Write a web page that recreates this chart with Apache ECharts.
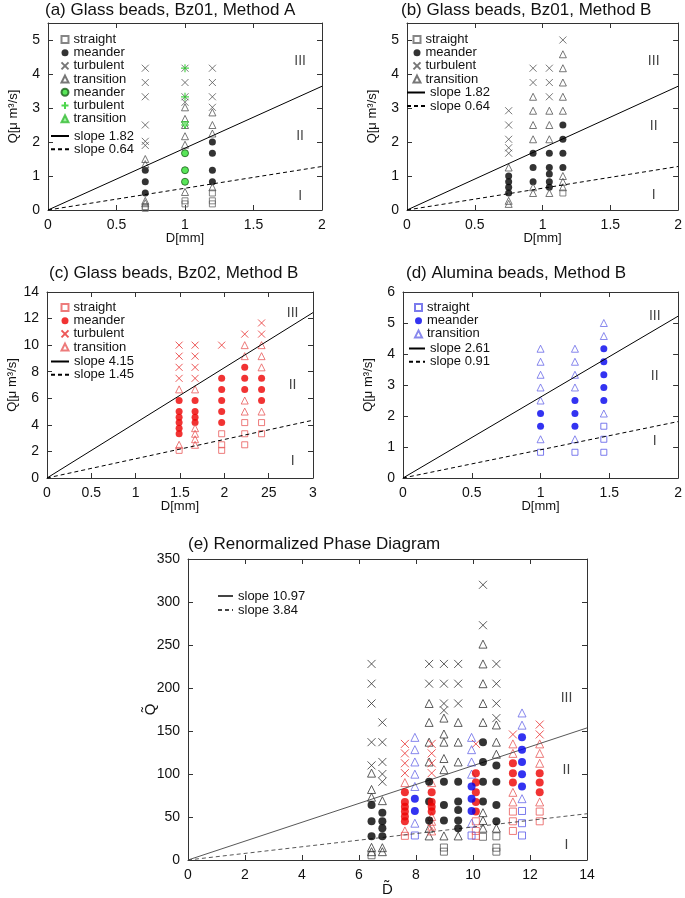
<!DOCTYPE html>
<html><head><meta charset="utf-8">
<script src="https://cdn.jsdelivr.net/npm/echarts@6/dist/echarts.min.js"></script>
<style>html,body{margin:0;padding:0;background:#fff}#c{width:685px;height:898px}</style>
</head><body><div id="c"></div>
<script>
// ---------- Panel (a): Glass beads, Bz01, Method A ----------
const aStraight = [[0.71,0.1],[0.71,0.05],[1.0,0.27],[1.0,0.18],[1.2,0.5],[1.2,0.27],[1.2,0.18]];
const aMeander = [[0.71,1.17],[0.71,0.83],[0.71,0.5],[1.2,2.0],[1.2,1.67],[1.2,1.17],[1.2,0.83]];
const aTurbulent = [[0.71,4.17],[0.71,3.75],[0.71,3.33],[0.71,2.5],[0.71,2.02],[0.71,1.9],[1.0,4.17],[1.0,3.75],[1.0,3.33],[1.0,3.17],[1.2,4.17],[1.2,3.75],[1.2,3.33],[1.2,3.02]];
const aTransition = [[0.71,1.5],[0.71,1.35],[0.71,0.27],[0.71,0.2],[1.0,3.02],[1.0,2.68],[1.0,2.5],[1.0,2.17],[1.0,1.92],[1.0,0.53],[1.2,2.87],[1.2,2.5],[1.2,2.25],[1.2,0.67]];
const aGreenMeander = [[1.0,1.67],[1.0,1.17],[1.0,0.83]];
const aGreenTurbulent = [[1.0,4.17],[1.0,3.33],[1.0,2.5]];
const aGreenTransition = [[1.0,2.5]];
const aSlopeHigh = [[0,0],[2,3.64]];   // slope 1.82
const aSlopeLow = [[0,0],[2,1.28]];    // slope 0.64

// ---------- Panel (b): Glass beads, Bz01, Method B ----------
const bStraight = [[1.15,0.5]];
const bMeander = [[0.75,1.0],[0.75,0.83],[0.75,0.67],[0.75,0.5],[0.93,1.67],[0.93,1.25],[0.93,0.83],[1.05,1.67],[1.05,1.25],[1.05,1.06],[1.05,0.83],[1.05,0.67],[1.15,2.5],[1.15,2.08],[1.15,1.67],[1.15,1.25]];
const bTurbulent = [[0.75,2.92],[0.75,2.5],[0.75,2.08],[0.75,1.83],[0.75,1.67],[0.93,4.17],[0.93,3.75],[1.05,4.17],[1.05,3.75],[1.05,3.33],[1.15,5.0]];
const bTransition = [[0.75,1.25],[0.75,0.27],[0.75,0.18],[0.93,3.33],[0.93,2.92],[0.93,2.5],[0.93,2.08],[0.93,0.67],[0.93,0.5],[1.05,2.92],[1.05,2.5],[1.05,2.08],[1.05,0.5],[1.15,4.58],[1.15,4.17],[1.15,3.75],[1.15,3.33],[1.15,2.92],[1.15,1.0],[1.15,0.83],[1.15,0.67]];
const bSlopeHigh = [[0,0],[2,3.64]];   // slope 1.82
const bSlopeLow = [[0,0],[2,1.28]];    // slope 0.64

// ---------- Panel (c): Glass beads, Bz02, Method B ----------
const cStraight = [[1.49,2.08],[1.97,3.33],[1.97,2.5],[1.97,2.08],[2.23,4.17],[2.23,3.33],[2.23,2.5],[2.42,4.17],[2.42,3.33]];
const cMeander = [[1.49,5.83],[1.49,5.0],[1.49,4.58],[1.49,4.17],[1.49,3.75],[1.49,3.33],[1.67,5.83],[1.67,5.0],[1.67,4.58],[1.67,4.17],[1.97,7.5],[1.97,6.67],[1.97,5.83],[1.97,5.0],[1.97,4.17],[2.23,8.33],[2.23,7.5],[2.23,6.67],[2.42,7.5],[2.42,6.67],[2.42,5.83]];
const cTurbulent = [[1.49,10],[1.49,9.17],[1.49,8.33],[1.49,7.5],[1.67,10],[1.67,9.17],[1.67,8.33],[1.67,7.5],[1.97,10],[2.23,10.83],[2.42,11.67],[2.42,10.83]];
const cTransition = [[1.49,6.67],[1.49,2.5],[1.67,6.67],[1.67,3.75],[1.67,3.33],[1.67,2.92],[1.67,2.5],[2.23,10],[2.23,9.17],[2.23,5.83],[2.23,5.0],[2.42,10],[2.42,9.17],[2.42,8.33],[2.42,5.0]];
const cSlopeHigh = [[0,0],[3,12.45]];  // slope 4.15
const cSlopeLow = [[0,0],[3,4.35]];    // slope 1.45

// ---------- Panel (d): Alumina beads, Method B ----------
const dStraight = [[1.0,0.83],[1.25,0.83],[1.46,1.67],[1.46,1.25],[1.46,0.83]];
const dMeander = [[1.0,2.08],[1.0,1.67],[1.25,2.5],[1.25,2.08],[1.25,1.67],[1.46,4.17],[1.46,3.75],[1.46,3.33],[1.46,2.92],[1.46,2.5]];
const dTransition = [[1.0,4.17],[1.0,3.75],[1.0,3.33],[1.0,2.92],[1.0,2.5],[1.0,1.25],[1.25,4.17],[1.25,3.75],[1.25,3.33],[1.25,2.92],[1.25,1.25],[1.46,5.0],[1.46,4.58],[1.46,2.08]];
const dSlopeHigh = [[0,0],[2,5.22]];   // slope 2.61
const dSlopeLow = [[0,0],[2,1.82]];    // slope 0.91

// ---------- Panel (e): Renormalized Phase Diagram ----------
const eBkStraight = [[6.44,5.5],[8.98,14.5],[8.98,9.7],[10.35,27],[10.82,27.5],[10.82,14.3],[10.82,9.7]];
const eBkMeander = [[6.44,64],[6.44,45],[6.44,27.5],[6.82,55],[6.82,45],[6.82,37],[6.82,27.5],[8.46,91],[8.46,68],[8.46,46],[8.98,91],[8.98,64],[8.98,46],[9.48,91],[9.48,68],[9.48,58],[9.48,46],[9.48,37],[10.35,137],[10.35,114],[10.35,91],[10.35,68],[10.82,110],[10.82,91],[10.82,64],[10.82,45]];
const eBkTurbulent = [[6.44,228],[6.44,205],[6.44,182],[6.44,137],[6.44,110],[6.82,160],[6.82,137],[6.82,114],[6.82,100],[6.82,91],[8.46,228],[8.46,205],[8.98,228],[8.98,205],[8.98,182],[8.98,174],[9.48,228],[9.48,205],[9.48,182],[10.35,320],[10.35,273],[10.82,228],[10.82,205],[10.82,182],[10.82,165]];
const eBkTransition = [[6.44,101],[6.44,82],[6.44,73],[6.44,14.7],[6.44,9.7],[6.82,69],[6.82,14.3],[6.82,9.7],[8.46,182],[8.46,160],[8.46,137],[8.46,114],[8.46,37],[8.46,28],[8.98,165],[8.98,146.5],[8.98,137],[8.98,118],[8.98,105],[8.98,28],[9.48,160],[9.48,137],[9.48,114],[9.48,28],[10.35,251],[10.35,228],[10.35,205],[10.35,182],[10.35,160],[10.35,55],[10.35,46],[10.35,37],[10.82,157],[10.82,137],[10.82,123],[10.82,37]];
const eRdStraight = [[7.61,28.1],[10.1,45],[10.1,33.8],[10.1,28.1],[11.4,56.3],[11.4,45],[11.4,33.8],[12.34,56.3],[12.34,45]];
const eRdMeander = [[7.61,78.7],[7.61,67.5],[7.61,61.9],[7.61,56.3],[7.61,50.6],[7.61,45],[8.55,78.7],[8.55,67.5],[8.55,61.9],[8.55,56.3],[10.1,101],[10.1,90],[10.1,78.7],[10.1,67.5],[10.1,56.3],[11.4,112.5],[11.4,101],[11.4,90],[12.34,101],[12.34,90],[12.34,78.7]];
const eRdTurbulent = [[7.61,135],[7.61,124],[7.61,112.5],[7.61,101],[8.55,135],[8.55,124],[8.55,112.5],[8.55,101],[10.1,135],[11.4,146],[12.34,157.5],[12.34,146]];
const eRdTransition = [[7.61,90],[7.61,33.8],[8.55,90],[8.55,50.6],[8.55,45],[8.55,39.4],[8.55,33.8],[11.4,135],[11.4,124],[11.4,78.7],[11.4,67.5],[12.34,135],[12.34,124],[12.34,112.5],[12.34,67.5]];
const eBlStraight = [[7.96,28.5],[9.95,28.5],[11.72,57],[11.72,42.8],[11.72,28.5]];
const eBlMeander = [[7.96,71.3],[7.96,57],[9.95,85.5],[9.95,71.3],[9.95,57],[11.72,142.6],[11.72,128.3],[11.72,114],[11.72,99.8],[11.72,85.5]];
const eBlTransition = [[7.96,142.6],[7.96,128.3],[7.96,114],[7.96,99.8],[7.96,85.5],[7.96,42.8],[9.95,142.6],[9.95,128.3],[9.95,114],[9.95,99.8],[9.95,42.8],[11.72,171],[11.72,156.8],[11.72,71.3]];
const eSlopeHigh = [[0,0],[14,153.6]]; // slope 10.97
const eSlopeLow = [[0,0],[14,53.8]];   // slope 3.84

// ---------- Text ----------
const titles = ['(a) Glass beads, Bz01, Method A','(b) Glass beads, Bz01, Method B','(c) Glass beads, Bz02, Method B','(d) Alumina beads, Method B','(e) Renormalized Phase Diagram'];
const regionNames = ['I','II','III'];
const qName = 'Q[\u03bc m\u00b3/s]';
const dName = 'D[mm]';

// ---------- Layout ----------
const FONT = '"Liberation Sans", Arial, sans-serif';
const grids = [
  {left:48, top:23, width:274, height:187},
  {left:407, top:23, width:273, height:187},
  {left:47, top:292, width:266, height:186},
  {left:403, top:292, width:277, height:186},
  {left:188, top:559, width:399, height:301}
];
const axisRanges = [
  {x:[0,2,0.5], y:[0,5.5,1]},
  {x:[0,2,0.5], y:[0,5.5,1]},
  {x:[0,3,0.5], y:[0,14,2]},
  {x:[0,2,0.5], y:[0,6,1]},
  {x:[0,14,2], y:[0,350,50]}
];
const regionPos = [
  [[1.84,0.42],[1.84,2.17],[1.84,4.39]],
  [[1.82,0.44],[1.82,2.46],[1.82,4.39]],
  [[2.77,1.3],[2.77,7.0],[2.77,12.4]],
  [[1.83,1.19],[1.83,3.29],[1.83,5.23]],
  [[13.28,17.4],[13.28,104.7],[13.28,188]]
];

const AX = '#333';
const xAxes = [], yAxes = [];
grids.forEach((g, i) => {
  const r = axisRanges[i];
  const base = {type:'value', gridIndex:i, splitLine:{show:false},
    axisLine:{onZero:false, lineStyle:{color:AX, width:1}},
    axisTick:{inside:true, length:5, lineStyle:{color:AX}}};
  const lbl = {color:'#111', fontSize:14, fontFamily:FONT, margin:8};
  xAxes.push(Object.assign({}, base, {position:'bottom', min:r.x[0], max:r.x[1], interval:r.x[2],
    axisLabel:Object.assign({}, lbl, {
      formatter: i === 2 ? (v => v === 2.5 ? '25' : String(v)) : (v => String(v))}),
    name: i === 4 ? 'D\u0303' : dName, nameLocation:'middle', nameGap: 22, nameMoveOverlap:false,
    nameTextStyle:{color:'#111', fontSize: i === 4 ? 15 : 13, fontFamily:FONT}}));
  xAxes.push(Object.assign({}, base, {position:'top', min:r.x[0], max:r.x[1], interval:r.x[2], axisLabel:{show:false}}));
  yAxes.push(Object.assign({}, base, {position:'left', min:r.y[0], max:r.y[1], interval:r.y[2],
    axisLabel:Object.assign({}, lbl, {showMaxLabel: r.y[1] % r.y[2] === 0}),
    name: i === 4 ? 'Q\u0303' : qName, nameLocation:'middle', nameGap: i === 4 ? 30 : 28, nameMoveOverlap:false,
    nameTextStyle:{color:'#111', fontSize: i === 4 ? 15 : 13, fontFamily:FONT}}));
  yAxes.push(Object.assign({}, base, {position:'right', min:r.y[0], max:r.y[1], interval:r.y[2], axisLabel:{show:false}}));
});

// ---------- Symbol styles ----------
const NOFILL = 'rgba(255,255,255,0)';
const CROSS = 'path://M0,0L10,10M10,0L0,10';
const PLUS = 'path://M5,0L5,10M0,5L10,5';
const st = {
  sq: (c, s) => ({symbol:'rect', symbolSize:s||6, itemStyle:{color:NOFILL, borderColor:c, borderWidth:1}}),
  tri: (c, s, f) => ({symbol:'triangle', symbolSize:s||7, itemStyle:{color:f||NOFILL, borderColor:c, borderWidth:1}}),
  dot: (c, s, bc) => ({symbol:'circle', symbolSize:s||7, itemStyle:{color:c, borderColor:bc||c, borderWidth:bc?1:0}}),
  x: (c, s) => ({symbol:CROSS, symbolSize:s||7, itemStyle:{color:NOFILL, borderColor:c, borderWidth:1}}),
  plus: (c, s) => ({symbol:PLUS, symbolSize:s||8, itemStyle:{color:NOFILL, borderColor:c, borderWidth:1.2}})
};
function S(name, data, gi, style, z) {
  return Object.assign({type:'scatter', name, data, xAxisIndex:gi*2, yAxisIndex:gi*2, silent:true, z:z||2}, style);
}
function L(name, data, gi, dashed, color, width) {
  color = color || '#000';
  return {type:'line', name, data, xAxisIndex:gi*2, yAxisIndex:gi*2, symbol:'none', silent:true, z:3,
    lineStyle:{color, width:width||1, type: dashed ? [4,3] : 'solid'}, itemStyle:{color}};
}
function R(gi) {
  return {type:'scatter', silent:true, xAxisIndex:gi*2, yAxisIndex:gi*2, symbolSize:1,
    itemStyle:{color:'rgba(0,0,0,0)'},
    data: regionPos[gi].map((p, k) => [p[0], p[1], regionNames[k]]),
    label:{show:true, position:'inside', formatter: p => p.data[2], color:'#111', fontSize:14, fontFamily:FONT}};
}

const GRAY = '#555', GR = '#666';
const series = [
  // (a)
  S('straight|a', aStraight, 0, st.sq(GR)),
  S('meander|a', aMeander, 0, st.dot('#000')),
  S('turbulent|a', aTurbulent, 0, st.x(GRAY)),
  S('transition|a', aTransition, 0, st.tri(GRAY)),
  S('meander|ag', aGreenMeander, 0, st.dot('#2ee02e', 7, '#1d5e1d'), 4),
  S('turbulent|ag', aGreenTurbulent, 0, st.plus('#22cc22'), 4),
  Object.assign(S('transition|ag', aGreenTransition, 0, st.tri('#33bb33', 7, '#88ee88'), 4), {symbolRotate:180}),
  L('slope 1.82|a', aSlopeHigh, 0, false),
  L('slope 0.64|a', aSlopeLow, 0, true),
  R(0),
  // (b)
  S('straight|b', bStraight, 1, st.sq(GR)),
  S('meander|b', bMeander, 1, st.dot('#000')),
  S('turbulent|b', bTurbulent, 1, st.x(GRAY)),
  S('transition|b', bTransition, 1, st.tri(GRAY)),
  L('slope 1.82|b', bSlopeHigh, 1, false),
  L('slope 0.64|b', bSlopeLow, 1, true),
  R(1),
  // (c)
  S('straight|c', cStraight, 2, st.sq('#e85a5a')),
  S('meander|c', cMeander, 2, st.dot('#ee0000')),
  S('turbulent|c', cTurbulent, 2, st.x('#e83030')),
  S('transition|c', cTransition, 2, st.tri('#e85a5a')),
  L('slope 4.15|c', cSlopeHigh, 2, false),
  L('slope 1.45|c', cSlopeLow, 2, true),
  R(2),
  // (d)
  S('straight|d', dStraight, 3, st.sq('#5a5ae8')),
  S('meander|d', dMeander, 3, st.dot('#0000ee')),
  S('transition|d', dTransition, 3, st.tri('#6a6ae8')),
  L('slope 2.61|d', dSlopeHigh, 3, false),
  L('slope 0.91|d', dSlopeLow, 3, true),
  R(3),
  // (e)
  S('eBkStraight', eBkStraight, 4, st.sq('#555', 7)),
  S('eBkTurbulent', eBkTurbulent, 4, st.x('#333', 8)),
  S('eBkTransition', eBkTransition, 4, st.tri('#333', 8)),
  S('eRdStraight', eRdStraight, 4, st.sq('#e85a5a', 7)),
  S('eRdTurbulent', eRdTurbulent, 4, st.x('#e83030', 8)),
  S('eRdTransition', eRdTransition, 4, st.tri('#e85a5a', 8)),
  S('eBlStraight', eBlStraight, 4, st.sq('#5a5ae8', 7)),
  S('eBlTransition', eBlTransition, 4, st.tri('#6a6ae8', 8)),
  S('eBkMeander', eBkMeander, 4, st.dot('#000', 8), 3),
  S('eRdMeander', eRdMeander, 4, st.dot('#ee0000', 8), 3),
  S('eBlMeander', eBlMeander, 4, st.dot('#0000ee', 8), 3),
  L('slope 10.97|e', eSlopeHigh, 4, false, '#444', 0.9),
  L('slope 3.84|e', eSlopeLow, 4, true, '#444', 0.9),
  R(4)
];

const legText = {color:'#111', fontSize:13, fontFamily:FONT};
const fmt = n => n.split('|')[0];
function leg(names, left, top, w, h, gap) {
  const data = names.map(n => n.indexOf('slope') === 0
    ? {name:n, itemStyle:{opacity:0, color:'rgba(0,0,0,0)', borderWidth:0}}
    : n);
  return {data, left, top, orient:'vertical', itemWidth:w, itemHeight:h, itemGap:gap,
    padding:0, formatter:fmt, textStyle:legText, selectedMode:false};
}
const legends = [
  leg(['straight|a','meander|a','turbulent|a','transition|a','meander|ag','turbulent|ag','transition|ag'], 60.5, 33, 7, 7, 0.2),
  leg(['slope 1.82|a','slope 0.64|a'], 50, 129.5, 18, 8, 0.2),
  leg(['straight|b','meander|b','turbulent|b','transition|b'], 412.5, 33, 7, 7, 0.2),
  leg(['slope 1.82|b','slope 0.64|b'], 406, 86, 18, 8, 0.5),
  leg(['straight|c','meander|c','turbulent|c','transition|c'], 60.5, 301, 7, 7, 0.2),
  leg(['slope 4.15|c','slope 1.45|c'], 50, 355, 18, 8, 0.2),
  leg(['straight|d','meander|d','transition|d'], 414, 301, 7, 7, 0.2),
  leg(['slope 2.61|d','slope 0.91|d'], 408, 342, 16, 8, 0.2),
  leg(['slope 10.97|e','slope 3.84|e'], 217, 589.5, 15, 8, 1)
];

const titlePos = [[45,2],[401,2],[49,265],[406,265],[188,536]];
const titleOpts = titles.map((t, i) => ({text:t, left:titlePos[i][0], top:titlePos[i][1], padding:0,
  textStyle:{fontSize:17, fontWeight:'normal', color:'#111', fontFamily:FONT}}));

const chart = echarts.init(document.getElementById('c'), null, {renderer:'canvas'});
chart.setOption({
  animation:false,
  backgroundColor:'#fff',
  title:titleOpts,
  grid:grids,
  xAxis:xAxes,
  yAxis:yAxes,
  legend:legends,
  series
});
</script>
</body></html>
